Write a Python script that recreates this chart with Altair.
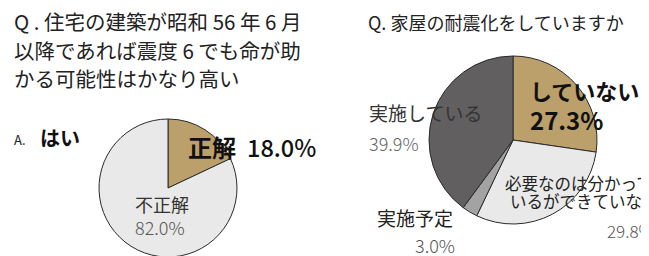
import altair as alt
import pandas as pd

# ---- data ----
q1_categories = ["正解", "不正解"]
q1_values = [18.0, 82.0]

q2_categories = ["していない", "必要なのは分かっているができていない", "実施予定", "実施している"]
q2_values = [27.3, 29.8, 3.0, 39.9]

# ---- style ----
FONT = "Noto Sans CJK JP"
q1_colors = ["#BBA06C", "#E8E9E8"]
q2_colors = ["#BBA06C", "#E8E9E8", "#A3A3A3", "#625F60"]
OFF = 8  # page margin


def pie(cats, vals, colors, cx, cy, r):
    df = pd.DataFrame({"cat": cats, "val": vals, "ord": list(range(len(cats)))})
    return alt.Chart(df).mark_arc(
        outerRadius=r, stroke="#2a2a2a", strokeWidth=1
    ).encode(
        theta=alt.Theta("val:Q", stack=True, scale=alt.Scale(domain=[0, 100])),
        order=alt.Order("ord:Q"),
        color=alt.Color("cat:N", scale=alt.Scale(domain=cats, range=colors), legend=None),
        x=alt.value(cx - OFF),
        y=alt.value(cy - OFF),
    )


def label(text, x, y, size, weight="normal", color="#222222", align="left"):
    return alt.Chart(pd.DataFrame({"t": [text]})).mark_text(
        align=align, baseline="middle", font=FONT, fontSize=size,
        fontWeight=weight, color=color
    ).encode(text="t:N", x=alt.value(x - OFF), y=alt.value(y - OFF))


pct = lambda v: f"{v:.1f}%"

layers = [
    pie(q1_categories, q1_values, q1_colors, 168, 188, 69),
    pie(q2_categories, q2_values, q2_colors, 513, 140, 84),
    # left titles
    label("Q . 住宅の建築が昭和 56 年 6 月", 14, 24, 20.5),
    label("以降であれば震度 6 でも命が助", 14, 53, 20.5),
    label("かる可能性はかなり高い", 14, 81, 20.5),
    label("A.", 14, 141, 13),
    label("はい", 40, 140, 20, "bold", "#111111"),
    label(q1_categories[0], 188, 150, 24, "bold", "#111111"),
    label(pct(q1_values[0]), 247, 150, 23.5, 500, "#111111"),
    label(q1_categories[1], 135, 207, 18, "normal", "#333333"),
    label(pct(q1_values[1]), 135, 230, 18, 300, "#555555"),
    # right
    label("Q. 家屋の耐震化をしていますか", 368, 25, 18),
    label(q2_categories[3], 369, 115, 19, "normal", "#333333"),
    label(pct(q2_values[3]), 369, 146, 18, 300, "#666666"),
    label(q2_categories[0], 530, 93, 22, "bold", "#111111"),
    label(pct(q2_values[0]), 530, 123, 24, "bold", "#111111"),
    label("必要なのは分かって", 505, 185, 16.5, "normal", "#222222"),
    label("いるができていない", 510, 203, 16.5, "normal", "#222222"),
    label(pct(q2_values[1]), 607, 233, 17, 300, "#555555"),
    label(q2_categories[2], 377, 220, 19, "normal", "#222222"),
    label(pct(q2_values[2]), 415, 248, 18, 300, "#555555"),
]

chart = alt.layer(*layers).resolve_scale(theta="independent", color="independent").properties(
    width=633, height=248, padding=0, autosize=alt.AutoSizeParams(type="none"),
    background="white"
).configure_view(stroke=None)

chart.save("out.html", embed_options={"renderer": "svg", "actions": False})
